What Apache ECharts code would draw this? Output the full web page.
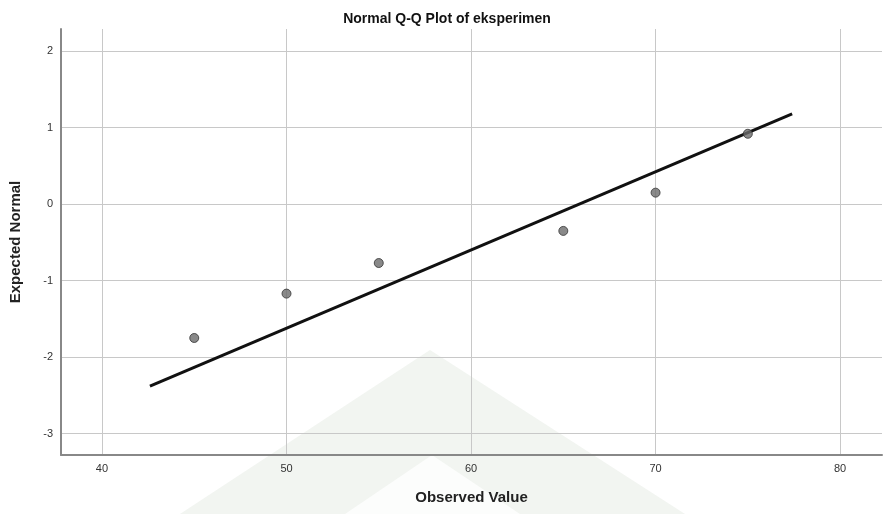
<!DOCTYPE html>
<html>
<head>
<meta charset="utf-8">
<script src="https://cdn.jsdelivr.net/npm/echarts@6/dist/echarts.min.js"></script>
<style>
  html, body { margin: 0; padding: 0; background: #fff; }
  #main { width: 883px; height: 514px; }
</style>
</head>
<body>
<div id="main"></div>
<script>
// observed values vs expected normal
var observed = [45, 50, 55, 65, 70, 75];
var expected = [-1.75, -1.17, -0.77, -0.35, 0.15, 0.92];
// reference line end points
var lineX = [42.6, 77.4];
var lineY = [-2.38, 1.18];
var xTicks = [40, 50, 60, 70, 80];
var yTicks = [-3, -2, -1, 0, 1, 2];

var chartDom = document.getElementById("main");
var myChart = echarts.init(chartDom);

var font = "Liberation Sans, Arial, sans-serif";

var option = {
  animation: false,
  backgroundColor: "#fff",
  title: {
    text: "Normal Q-Q Plot of eksperimen",
    left: 442,
    textAlign: "center",
    top: 7,
    textStyle: { fontFamily: font, fontSize: 14, fontWeight: "bold", color: "#111" }
  },
  // faint watermark from the scanned page
  graphic: [
    {
      type: "polygon",
      silent: true,
      z: -10,
      shape: { points: [[430, 350], [180, 514], [685, 514]] },
      style: { fill: "#f2f5f1" }
    },
    {
      type: "polygon",
      silent: true,
      z: -9,
      shape: { points: [[432, 455], [345, 514], [520, 514]] },
      style: { fill: "#fcfdfc" }
    }
  ],
  grid: { left: 60, right: 1, top: 29, bottom: 59 },
  xAxis: {
    type: "value",
    min: 37.78,
    max: 82.27,
    name: "Observed Value",
    nameLocation: "middle",
    nameGap: 35,
    nameTextStyle: { fontFamily: font, fontSize: 15, fontWeight: "bold", color: "#222" },
    axisLine: { show: true, onZero: false, lineStyle: { color: "#888", width: 2 } },
    axisTick: { show: false, customValues: xTicks },
    axisLabel: { customValues: xTicks, fontFamily: font, fontSize: 11, color: "#333", margin: 8 },
    splitLine: { show: true, lineStyle: { color: "#c8c8c8", width: 1 } }
  },
  yAxis: {
    type: "value",
    min: -3.28,
    max: 2.29,
    name: "Expected Normal",
    nameLocation: "middle",
    nameGap: 38,
    nameTextStyle: { fontFamily: font, fontSize: 15, fontWeight: "bold", color: "#222" },
    axisLine: { show: true, onZero: false, lineStyle: { color: "#888", width: 2 } },
    axisTick: { show: false, customValues: yTicks },
    axisLabel: { customValues: yTicks, fontFamily: font, fontSize: 11, color: "#333", margin: 8 },
    splitLine: { show: true, lineStyle: { color: "#c8c8c8", width: 1 } }
  },
  series: [
    {
      type: "line",
      data: lineX.map(function (x, i) { return [x, lineY[i]]; }),
      showSymbol: false,
      lineStyle: { color: "#111", width: 3 },
      z: 2
    },
    {
      type: "scatter",
      data: observed.map(function (x, i) { return [x, expected[i]]; }),
      symbolSize: 9,
      itemStyle: { color: "#6b6b6b", borderColor: "#333", borderWidth: 1 },
      z: 3
    }
  ]
};

option && myChart.setOption(option);
</script>
</body>
</html>
